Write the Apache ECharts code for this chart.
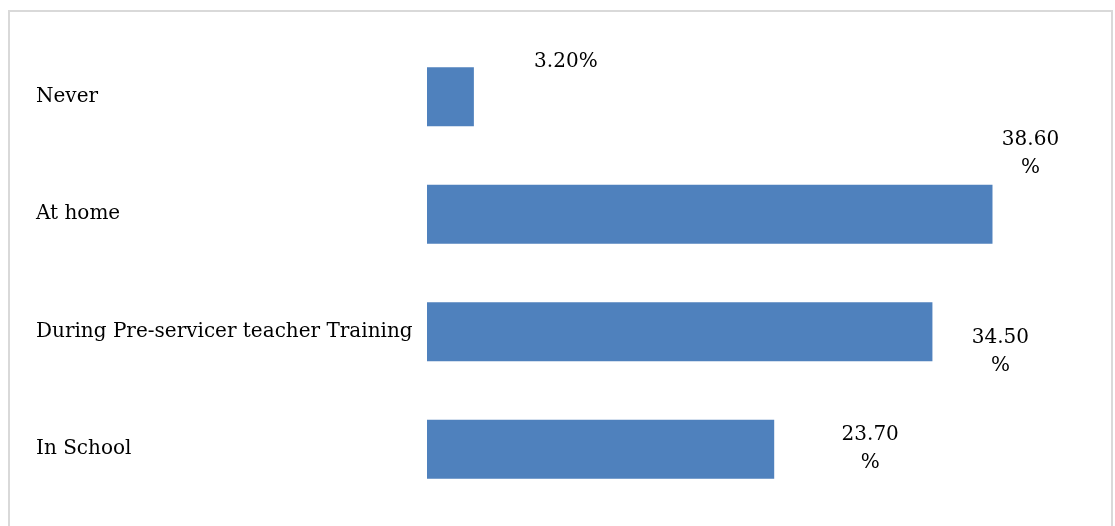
<!DOCTYPE html>
<html>
<head>
<meta charset="utf-8">
<script src="https://cdn.jsdelivr.net/npm/echarts@6/dist/echarts.min.js"></script>
<style>
  html, body { margin: 0; padding: 0; background: #fff; }
  #chart { width: 1115px; height: 526px; }
</style>
</head>
<body>
<div id="chart"></div>
<script>
// Where respondents first learned (percent of respondents)
const categories = ['Never', 'At home', 'During Pre-servicer teacher Training', 'In School'];
const percentages = [3.2, 38.6, 34.5, 23.7];

// Label placement relative to each bar's end: [dx, dy], and whether the text wraps
const labelOffsets = [[92, -35], [38, -60], [68, 20], [96, 0]];
const labelWraps = [false, true, true, true];

const FONT = 'DejaVu Serif';

const chart = echarts.init(document.getElementById('chart'), null, { renderer: 'canvas' });

chart.setOption({
  animation: false,
  backgroundColor: '#ffffff',
  grid: { left: 427, top: 38, width: 586, height: 470, containLabel: false },
  xAxis: {
    type: 'value',
    min: 0,
    max: 40,
    show: false
  },
  yAxis: {
    type: 'category',
    data: categories,
    inverse: true,
    axisLine: { show: false },
    axisTick: { show: false },
    splitLine: { show: false },
    axisLabel: {
      align: 'left',
      margin: 391,
      color: '#000000',
      fontFamily: FONT,
      fontSize: 20
    }
  },
  series: [{
    type: 'bar',
    barWidth: 59,
    itemStyle: { color: '#4F81BD' },
    data: percentages.map((v, i) => ({
      value: v,
      label: {
        show: true,
        position: 'right',
        distance: 0,
        align: 'center',
        verticalAlign: 'middle',
        offset: labelOffsets[i],
        color: '#000000',
        fontFamily: FONT,
        fontSize: 20,
        lineHeight: 28,
        formatter: () => v.toFixed(2) + (labelWraps[i] ? '\n%' : '%')
      }
    }))
  }],
  graphic: [{
    type: 'rect',
    silent: true,
    shape: { x: 9, y: 11, width: 1103, height: 540 },
    style: { fill: null, stroke: '#d9d9d9', lineWidth: 2 }
  }]
});
</script>
</body>
</html>
